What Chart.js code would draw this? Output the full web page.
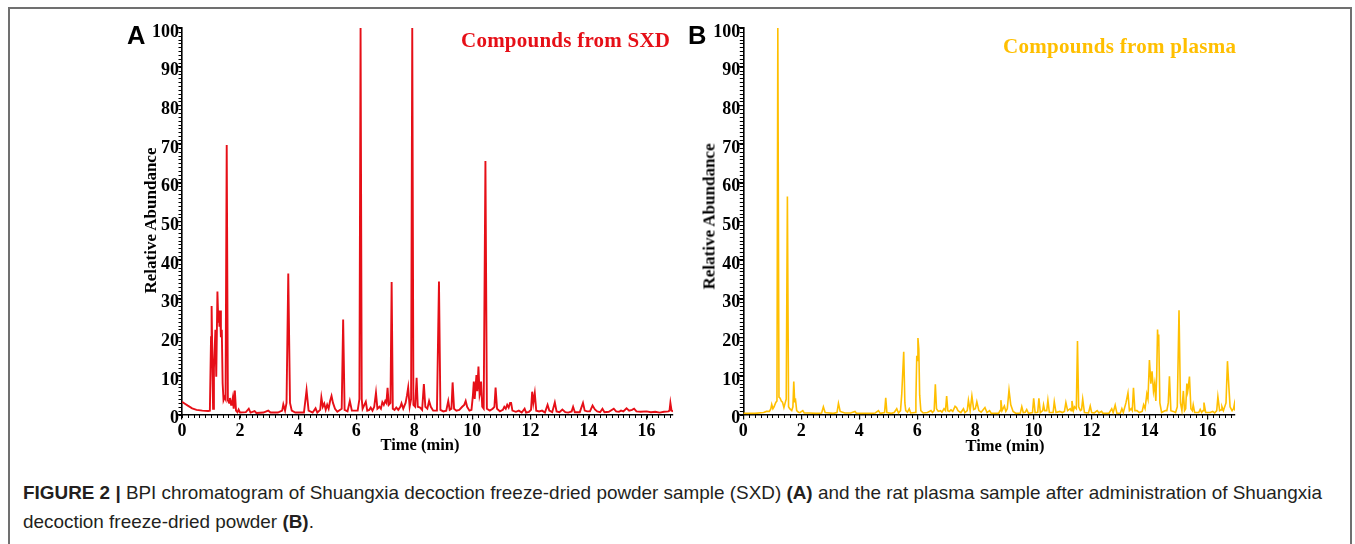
<!DOCTYPE html>
<html>
<head>
<meta charset="utf-8">
<script src="https://cdn.jsdelivr.net/npm/chart.js@4.4.1/dist/chart.umd.min.js"></script>
<style>
  html, body { margin: 0; padding: 0; background: #fff; }
  body { width: 1355px; height: 544px; position: relative; overflow: hidden; }
  canvas { position: absolute; left: 0; top: 0; }
  .t { position: absolute; white-space: nowrap; line-height: 1; }
  .serif { font-family: "Liberation Serif", "Times New Roman", serif; font-weight: bold; }
  .sans { font-family: "Liberation Sans", Arial, sans-serif; }
  #frame { position: absolute; left: 8px; top: 7px; width: 1344px; height: 600px; border: 2px solid #707070; box-sizing: border-box; }
</style>
</head>
<body>
<div id="frame"></div>
<canvas id="chartA" width="1355" height="460"></canvas>
<canvas id="chartB" width="1355" height="460"></canvas>
<div id="texts"></div>
<script>
// ---------------- DATA ----------------
const xMajorTicks = [0, 2, 4, 6, 8, 10, 12, 14, 16];
const yMajorTicks = [0, 10, 20, 30, 40, 50, 60, 70, 80, 90, 100];
const xMinorStep = 0.2;
const yMinorStep = 1;

// Panel A: Compounds from SXD (time, min / relative abundance, %)
const timesA = [0,0.1,0.2,0.35,0.5,0.7,0.9,0.96,1.0,1.02,1.05,1.07,1.1,1.15,1.18,1.22,1.25,1.27,1.29,1.31,1.34,1.37,1.40,1.43,1.47,1.50,1.54,1.58,1.62,1.65,1.69,1.72,1.75,1.78,1.82,1.86,1.91,1.95,2.0,2.2,2.3,2.36,2.5,2.56,2.8,2.97,3.05,3.3,3.45,3.49,3.55,3.6,3.66,3.72,3.78,3.9,4.2,4.29,4.36,4.5,4.6,4.66,4.76,4.80,4.85,4.9,4.95,5.0,5.05,5.1,5.15,5.2,5.27,5.35,5.5,5.55,5.6,5.7,5.78,5.85,6.05,6.11,6.15,6.19,6.22,6.28,6.33,6.38,6.45,6.5,6.56,6.62,6.68,6.73,6.8,6.85,6.9,6.95,7.0,7.04,7.08,7.12,7.18,7.22,7.26,7.32,7.38,7.45,7.52,7.56,7.62,7.7,7.75,7.79,7.84,7.89,7.93,7.97,8.03,8.08,8.12,8.2,8.27,8.33,8.38,8.45,8.51,8.57,8.65,8.78,8.85,8.9,9.0,9.1,9.17,9.22,9.28,9.32,9.37,9.45,9.55,9.65,9.72,9.77,9.82,9.9,9.97,10.02,10.05,10.08,10.11,10.14,10.17,10.21,10.25,10.28,10.30,10.34,10.39,10.45,10.5,10.6,10.7,10.76,10.80,10.85,10.95,11.05,11.1,11.15,11.2,11.25,11.3,11.33,11.38,11.5,11.6,11.7,11.8,11.85,11.95,12.02,12.06,12.1,12.15,12.2,12.3,12.4,12.5,12.59,12.65,12.75,12.84,12.9,13.0,13.1,13.2,13.3,13.42,13.47,13.53,13.7,13.81,13.87,13.95,14.05,14.14,14.22,14.3,14.4,14.48,14.55,14.7,14.87,14.95,15.05,15.12,15.2,15.31,15.4,15.5,15.57,15.65,15.8,16.0,16.15,16.3,16.45,16.6,16.75,16.79,16.82,16.86,16.91];
const valuesA = [3.3,2.8,2.3,1.6,1.2,1.0,0.9,1.0,20,28.1,12,1.5,12,21.9,9.8,31.8,24,26.9,22.7,26.9,20,21.9,8,3.7,4.5,4,69.7,3.7,3,4.3,2.5,3,4.3,1.5,6.2,1,0.6,1.3,0.5,0.6,1.5,0.5,0.9,0.4,0.5,1.0,0.5,0.5,1,2.6,1,3,36.5,3,1,0.5,0.5,6.3,1,0.5,1.6,0.5,1.2,4.4,2,2.8,1.2,2.5,1.5,3.5,4.8,3,1.5,0.7,1.5,24.6,1.2,0.8,3.5,1,1,4,100,4,1.5,2.5,3.3,1,1.2,1.8,1,2,5.6,1.5,2,1.5,3.2,2.5,3.5,3,6.9,2.5,3,34.3,1.5,1.2,1.8,1.2,2,2.9,1.5,3,5,7,2,4,100,2.5,2,9.5,2,1.8,1.2,7.9,2,1.5,3.5,2,1,1,34.4,1.2,0.8,1,3.5,1.2,1.5,8.3,1.5,1,1.2,2,2.5,3.5,2,1,1.2,5,8.5,4,7,10.2,6,12.4,5,6,8.5,2,1.5,65.6,1.5,1,1.5,2,7,1.5,0.8,1.2,2,1.5,2.5,1.8,3,3.2,1,0.7,1,0.5,1.5,0.5,0.7,1.2,5.9,3,5.5,1,0.8,1,0.5,2.5,1,0.6,3.1,0.8,0.6,1.3,0.6,0.5,0.8,2,0.6,0.6,3,1,0.8,0.8,2.3,1.3,0.8,0.6,1.5,0.6,0.7,1.5,0.8,0.7,1,0.8,1.6,1,1.2,1.5,0.8,0.7,0.8,0.6,0.7,0.5,0.7,0.8,1,3,1,0.8];

// Panel B: Compounds from plasma
const timesB = [0,0.4,0.7,0.8,0.9,0.95,0.98,1.02,1.06,1.12,1.16,1.19,1.23,1.27,1.31,1.35,1.4,1.45,1.48,1.52,1.56,1.6,1.67,1.71,1.74,1.77,1.8,1.84,1.9,1.95,2.05,2.1,2.3,2.5,2.7,2.76,2.82,3.1,3.23,3.28,3.34,3.5,3.7,3.85,3.9,4.4,4.55,4.66,4.72,4.87,4.91,4.95,5.1,5.2,5.29,5.35,5.42,5.46,5.53,5.57,5.6,5.66,5.72,5.77,5.92,5.95,5.98,6.0,6.02,6.05,6.08,6.12,6.2,6.35,6.47,6.52,6.58,6.62,6.66,6.72,6.8,6.85,6.92,6.97,7.01,7.05,7.1,7.16,7.22,7.30,7.35,7.4,7.5,7.59,7.64,7.72,7.76,7.82,7.88,7.94,8.0,8.05,8.12,8.2,8.33,8.4,8.49,8.55,8.8,8.85,8.88,8.92,9.0,9.05,9.1,9.16,9.22,9.3,9.4,9.55,9.6,9.65,9.72,9.77,9.83,9.97,10.01,10.06,10.15,10.19,10.24,10.32,10.35,10.39,10.46,10.5,10.55,10.68,10.72,10.78,10.91,11.0,11.07,11.12,11.18,11.27,11.3,11.33,11.38,11.42,11.48,11.52,11.56,11.62,11.66,11.7,11.76,11.9,11.96,12.01,12.1,12.2,12.26,12.35,12.4,12.6,12.7,12.75,12.82,12.88,13.0,13.05,13.1,13.19,13.26,13.31,13.37,13.41,13.45,13.5,13.57,13.65,13.75,13.8,13.85,13.91,13.95,14.0,14.05,14.09,14.14,14.18,14.22,14.25,14.28,14.3,14.32,14.36,14.42,14.55,14.6,14.65,14.69,14.74,14.82,14.9,14.96,15.02,15.07,15.12,15.17,15.21,15.25,15.29,15.32,15.34,15.38,15.43,15.48,15.51,15.56,15.7,15.75,15.8,15.85,15.88,15.94,16.1,16.18,16.25,16.32,16.36,16.42,16.47,16.5,16.55,16.64,16.69,16.74,16.78,16.85,16.9,16.93,16.95];
const valuesB = [0.3,0.3,0.5,0.8,0.8,1.5,2.6,1.5,2,3.1,3.5,100,4.5,4.2,3.5,3.2,1.8,3.2,4,56.4,2,1.5,1,2,8.5,3.5,3.8,1,0.6,0.5,1,0.4,0.4,0.3,0.4,2,0.5,0.3,0.5,2.9,0.8,0.4,0.4,0.8,0.3,0.3,0.4,1,0.3,0.5,4.3,0.5,0.3,0.5,1.5,0.4,1,5,16.2,3,1,0.6,1.5,0.4,0.5,4,15.2,14,19.8,17,5,1,0.4,0.5,1,0.5,1,7.8,1.5,0.8,1,0.6,1.5,1,4.8,1,0.8,1.2,0.8,2.1,1.8,1,0.5,1.5,0.5,1,3.7,1,4.8,1.3,1.5,3.3,1,0.6,1.8,0.5,1,0.3,0.3,1,3.7,1,2.2,0.8,1.5,6.3,2.5,0.8,0.3,0.4,2,0.5,0.6,1.3,0.3,0.5,4.2,0.5,0.6,4.2,0.5,1,2.5,1,1,3.7,0.5,0.5,3.3,0.5,0.8,0.5,0.8,3.1,1,1.5,1,3.5,1,2,1.5,19,2,1,1.2,4,0.5,0.4,2.2,0.5,0.4,1,0.4,0.8,0.3,0.3,1.5,0.5,2.4,0.3,0.4,1.5,0.5,3,5.6,1,1.5,1,6.9,1,1,0.5,0.8,2.5,1.5,5.3,4,14.1,8,11.2,6,8,3.5,10,22,18,20.7,3,0.5,1,1,3,9.9,1,0.8,0.5,2,27,3,1,6.1,1,1.5,8,6,7,9.8,1.5,1,2.5,0.5,0.5,1.3,0.5,1,3.1,0.5,0.5,0.8,0.4,1,4.6,1,1.2,2,1,3,13.8,7,2,1,1.5,2.7,1];

// ---------------- CHARTS ----------------
const minorTicksPlugin = {
  id: 'minorTicks',
  afterDraw(chart) {
    const ctx = chart.ctx, x = chart.scales.x, y = chart.scales.y;
    ctx.save();
    ctx.strokeStyle = '#000';
    ctx.lineWidth = 1;
    ctx.beginPath();
    for (let i = 0; i * xMinorStep <= x.max + 1e-9; i++) {
      const px = Math.round(x.getPixelForValue(i * xMinorStep)) + 0.5;
      ctx.moveTo(px, y.bottom);
      ctx.lineTo(px, y.bottom + 3.5);
    }
    for (let i = 0; i * yMinorStep <= y.max + 1e-9; i++) {
      const py = Math.round(y.getPixelForValue(i * yMinorStep)) + 0.5;
      ctx.moveTo(x.left, py);
      ctx.lineTo(x.left - 3.5, py);
    }
    ctx.stroke();
    ctx.restore();
  }
};

const tickFont = { family: '"Liberation Serif", "Times New Roman", serif', weight: 'bold', size: 18 };

function makeChart(id, times, values, color, width, xMax, padding) {
  return new Chart(document.getElementById(id), {
    type: 'line',
    data: {
      datasets: [{
        data: times.map((t, i) => ({ x: t, y: values[i] })),
        borderColor: color,
        borderWidth: width,
        pointRadius: 0,
        tension: 0,
        fill: false
      }]
    },
    options: {
      responsive: false,
      animation: false,
      devicePixelRatio: 1,
      layout: { padding },
      plugins: { legend: { display: false }, tooltip: { enabled: false } },
      scales: {
        x: {
          type: 'linear', min: 0, max: xMax,
          afterBuildTicks: s => { s.ticks = xMajorTicks.map(v => ({ value: v })); },
          afterFit: s => { s.height = 40; },
          grid: { drawOnChartArea: false, drawTicks: true, tickLength: 5, color: '#000', lineWidth: 1.2 },
          border: { display: true, color: '#000', width: 1.6 },
          ticks: { font: tickFont, color: '#000', padding: 1, maxRotation: 0, autoSkip: false }
        },
        y: {
          type: 'linear', min: 0, max: 100,
          afterBuildTicks: s => { s.ticks = yMajorTicks.map(v => ({ value: v })); },
          afterFit: s => { s.width = 60; },
          grid: { drawOnChartArea: false, drawTicks: true, tickLength: 5, color: '#000', lineWidth: 1.2 },
          border: { display: true, color: '#000', width: 1.6 },
          ticks: { font: tickFont, color: '#000', padding: -2, labelOffset: 4, autoSkip: false }
        }
      }
    },
    plugins: [minorTicksPlugin]
  });
}

makeChart('chartA', timesA, valuesA, '#e60f17', 1.9, 16.91, { left: 122, right: 1355 - 673, top: 28, bottom: 460 - 414.5 - 40 });
makeChart('chartB', timesB, valuesB, '#ffbf00', 1.6, 16.95, { left: 683.3, right: 1355 - 1235, top: 28, bottom: 460 - 414.5 - 40 });

// ---------------- TEXT ----------------
const texts = document.getElementById('texts');
function addText(html, cls, size, x, baseline, opts = {}) {
  const d = document.createElement('div');
  d.className = 't ' + cls;
  d.innerHTML = html;
  d.style.fontSize = size + 'px';
  if (opts.color) d.style.color = opts.color;
  texts.appendChild(d);
  const asc = cls.includes('serif') ? 0.8375 : 0.8465;
  d.style.top = (baseline - asc * size) + 'px';
  const w = d.getBoundingClientRect().width;
  if (opts.width) {
    const n = d.textContent.length - 1;
    d.style.letterSpacing = ((opts.width - w) / n) + 'px';
  }
  if (opts.align === 'center') d.style.left = (x - d.getBoundingClientRect().width / 2) + 'px';
  else d.style.left = x + 'px';
  return d;
}

addText('A', 'sans', 25.5, 127, 45, {}).style.fontWeight = 'bold';
addText('B', 'sans', 25.5, 688, 45, {}).style.fontWeight = 'bold';
addText('Compounds from SXD', 'serif', 21, 461, 47.5, { color: '#e60f17', width: 209 });
addText('Compounds from plasma', 'serif', 21, 1003, 54, { color: '#ffbf00', width: 233 });
addText('Time (min)', 'serif', 16.5, 420, 451, { align: 'center' });
addText('Time (min)', 'serif', 16.5, 1005, 452, { align: 'center' });

function addYTitle(cx, cy) {
  const d = document.createElement('div');
  d.className = 't serif';
  d.textContent = 'Relative Abundance';
  d.style.fontSize = '17px';
  texts.appendChild(d);
  const w = d.getBoundingClientRect().width, h = d.getBoundingClientRect().height;
  d.style.left = (cx - w / 2) + 'px';
  d.style.top = (cy - h / 2) + 'px';
  d.style.transform = 'rotate(-90deg)';
}
addYTitle(151, 220);
addYTitle(709, 216);

// Caption
const cap1 = addText('<b>FIGURE 2 |</b> BPI chromatogram of Shuangxia decoction freeze-dried powder sample (SXD) <b>(A)</b> and the rat plasma sample after administration of Shuangxia', 'sans', 18.5, 23, 500, {});
cap1.style.color = '#231f20';
const cap2 = addText('decoction freeze-dried powder <b>(B)</b>.', 'sans', 18.5, 23, 529, {});
cap2.style.color = '#231f20';
const w1 = cap1.getBoundingClientRect().width;
const sx = 1299 / w1;
[cap1, cap2].forEach(c => { c.style.transformOrigin = '0 0'; c.style.transform = 'scaleX(' + sx + ')'; });
</script>
</body>
</html>
